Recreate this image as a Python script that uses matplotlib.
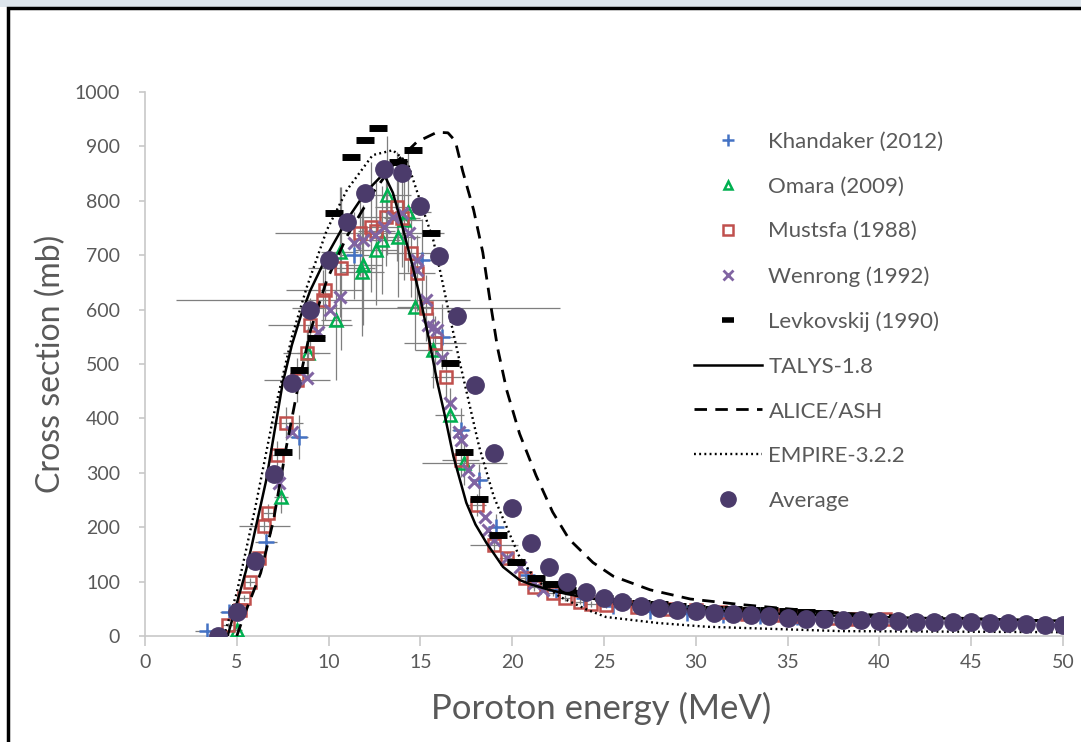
import matplotlib
matplotlib.use("Agg")
import matplotlib.pyplot as plt
from matplotlib.lines import Line2D
from matplotlib.patches import Rectangle

plt.rcParams['font.family'] = ['Lato', 'DejaVu Sans']

khandaker_e = [3.4, 4.6, 6.6, 8.4, 11.4, 15.1, 16.2, 17.2, 18.2, 19.1, 20.8, 22.4, 23.9, 25.5, 27.5, 29.5, 31.5, 33.5, 35.5]
khandaker_s = [9, 45, 173, 366, 700, 691, 550, 379, 287, 200, 112, 85, 70, 56, 46, 42, 39, 37, 35]
khandaker_xerr = [0.7, 0.5, 0.6, 0.5, 0.8, 0.6, 0.6, 0.5, 0.5, 0.4, 0.4, 0.3, 0.3, 0.3, 0.3, 0.3, 0.3, 0.3, 0.3]
khandaker_yerr = [5, 8, 20, 40, 80, 75, 60, 40, 30, 25, 12, 9, 8, 6, 5, 5, 4, 4, 4]

omara_e = [5.0, 7.4, 8.9, 10.4, 10.6, 11.8, 11.9, 12.6, 12.9, 13.2, 13.8, 14.1, 14.3, 14.7, 15.7, 16.6, 17.4]
omara_s = [11, 256, 520, 581, 706, 669, 682, 709, 728, 810, 733, 765, 779, 605, 526, 406, 318]
omara_xerr = [0.3, 0.4, 0.6, 0.8, 1.0, 1.2, 1.0, 1.2, 1.0, 1.3, 1.2, 1.0, 1.3, 1.0, 1.0, 0.8, 2.3]
omara_yerr = [5, 30, 50, 110, 120, 118, 110, 100, 100, 110, 110, 110, 110, 80, 70, 50, 40]

mustsfa_e = [4.5, 5.2, 5.4, 5.7, 6.2, 6.5, 6.7, 7.2, 7.7, 8.3, 8.8, 9.0, 9.7, 9.8, 10.7, 11.7, 12.3, 12.6, 13.1, 13.7,
             14.0, 14.5, 14.8, 15.3, 15.8, 16.4, 17.2, 18.1, 19.0, 19.7, 20.7, 21.2, 22.2, 22.9, 23.7, 24.3, 25.1,
             26.8, 28.5, 30.0, 31.3, 32.8, 34.2, 35.8, 37.3, 38.8, 40.3]
mustsfa_s = [20, 48, 70, 99, 143, 202, 226, 333, 391, 471, 520, 572, 618, 636, 676, 741, 752, 745, 770, 789,
             768, 704, 667, 603, 539, 476, 323, 241, 167, 143, 107, 90, 79, 70, 63, 59, 57,
             53, 50, 47, 44, 41, 39, 36, 34, 32, 31]
mustsfa_xerr = [0.3, 0.3, 0.3, 0.3, 0.3, 1.4, 0.3, 0.4, 0.9, 1.8, 1.3, 2.3, 8.0, 2.1, 1.8, 4.6, 1.5, 1.0, 1.5, 1.2,
                1.0, 1.3, 1.0, 7.3, 1.7, 0.8, 1.0, 0.5, 1.3, 0.4, 0.3, 0.3, 0.3, 0.3, 0.3, 0.3, 0.3,
                0.3, 0.3, 0.3, 0.3, 0.3, 0.3, 0.3, 0.3, 0.3, 0.3]
mustsfa_yerr = [3, 5, 6, 8, 12, 15, 16, 25, 30, 40, 45, 50, 55, 55, 150, 80, 120, 90, 90, 100,
                90, 80, 70, 60, 50, 45, 30, 20, 15, 12, 8, 7, 6, 6, 5, 5, 5,
                4, 4, 4, 4, 3, 3, 3, 3, 3, 3]

wenrong_e = [7.3, 8.0, 8.8, 9.4, 10.1, 10.6, 11.4, 11.9, 12.5, 13.0, 13.5, 14.0, 14.4, 14.8, 14.8, 15.3, 15.4,
             15.7, 15.9, 16.2, 16.6, 17.1, 17.2, 17.6, 17.9, 18.5, 18.7, 19.0, 19.7, 20.4, 21.2, 21.7]
wenrong_s = [281, 375, 474, 559, 599, 623, 722, 728, 737, 752, 770, 778, 741, 691, 673, 618, 572,
             568, 563, 511, 428, 375, 360, 305, 283, 219, 195, 176, 143, 127, 97, 85]

levkovskij_e = [7.5, 8.4, 9.3, 10.3, 11.2, 12.0, 12.7, 13.8, 14.6, 15.6, 16.6, 17.4, 18.2, 19.2, 20.2, 21.3,
                22.1, 23.0, 23.9, 25.0, 26.0, 27.0, 28.0, 29.0, 30.0, 31.0, 32.0, 33.0, 34.0, 35.0, 36.0, 37.0]
levkovskij_s = [338, 489, 548, 778, 880, 912, 934, 871, 893, 741, 502, 338, 252, 186, 136, 107,
                96, 85, 79, 70, 65, 61, 58, 55, 52, 50, 49, 48, 47, 46, 44, 43]

# ---- model calculations ----
talys_e = [4.5, 5.0, 5.5, 5.8, 6.6, 7.5, 8.0, 8.5, 9.0, 10.0, 11.0, 12.0, 13.0, 13.5, 14.0, 14.5, 15.0, 15.5,
           15.9, 16.3, 16.8, 17.5, 18.0, 18.6, 19.5, 20.4, 21.0, 22.0, 23.0, 25.0, 27.0, 30.0, 35.0, 40.0, 45.0, 50.0]
talys_s = [0, 60, 120, 164, 286, 465, 535, 590, 635, 705, 765, 815, 850, 815, 755, 690, 620, 540,
           470, 410, 330, 245, 205, 171, 127, 103, 95, 85, 77, 65, 56, 48, 40, 35, 31, 28]

alice_e = [5.0, 5.3, 6.3, 7.0, 7.7, 8.3, 9.0, 9.9, 11.0, 12.4, 13.5, 14.8, 15.9, 16.5, 16.9, 17.3, 17.9, 18.4, 18.8,
           19.2, 19.7, 20.4, 21.3, 22.2, 23.1, 24.4, 25.5, 27.5, 29.7, 32.4, 34.0, 37.0, 40.0, 45.0, 50.0]
alice_s = [0, 29, 116, 213, 348, 452, 560, 654, 735, 814, 865, 908, 926, 925, 910, 855, 783, 705, 615,
           530, 452, 372, 295, 228, 178, 135, 110, 85, 68, 58, 53, 44, 38, 32, 27]

empire_e = [4.3, 5.0, 6.0, 7.0, 8.0, 8.8, 9.9, 11.0, 12.4, 13.5, 14.3, 15.2, 15.7, 16.1, 16.6, 17.2, 18.2,
            19.0, 19.7, 20.4, 21.3, 22.6, 24.1, 25.1, 27.9, 30.6, 37.9, 50.0]
empire_s = [0, 80, 235, 405, 550, 640, 746, 820, 884, 893, 870, 778, 728, 667, 587, 495, 348,
            256, 200, 145, 103, 72, 48, 35, 24, 17, 9, 7]

average_e = [4, 5, 6, 7, 8, 9, 10, 11, 12, 13, 14, 15, 16, 17, 18, 19, 20, 21, 22, 23, 24, 25, 26, 27,
             28, 29, 30, 31, 32, 33, 34, 35, 36, 37, 38, 39, 40, 41, 42, 43, 44, 45, 46, 47, 48, 49, 50]
average_s = [0, 44, 138, 298, 465, 599, 691, 761, 814, 858, 851, 790, 698, 588, 461, 336, 235, 171, 127, 99, 81, 70,
             63, 56, 51, 48, 46, 43, 41, 39, 37, 34, 32, 31, 30, 29, 28, 27, 26, 26, 25, 25, 24, 23, 22, 21, 20]

GREY_TXT = '#595959'
ERR = '#7f7f7f'

fig = plt.figure(figsize=(10.81, 7.42), dpi=100)
ax = fig.add_axes([145 / 1081, 1 - 636 / 742, 918 / 1081, 544 / 742])

# error bars first so the markers sit on top
for e, s, xe, ye in [(khandaker_e, khandaker_s, khandaker_xerr, khandaker_yerr),
                     (omara_e, omara_s, omara_xerr, omara_yerr),
                     (mustsfa_e, mustsfa_s, mustsfa_xerr, mustsfa_yerr)]:
    ax.errorbar(e, s, xerr=xe, yerr=ye, fmt='none', ecolor=ERR, elinewidth=0.9, capsize=0, zorder=1)

ax.plot(khandaker_e, khandaker_s, ls='none', marker='+', ms=11, mew=1.8, color='#4472C4', zorder=3)
ax.plot(omara_e, omara_s, ls='none', marker='^', ms=8.5, mew=1.8, mfc='none', mec='#00B050', zorder=3)
ax.plot(mustsfa_e, mustsfa_s, ls='none', marker='s', ms=9, mew=1.8, mfc='none', mec='#C0504D', zorder=3)
ax.plot(wenrong_e, wenrong_s, ls='none', marker='x', ms=9, mew=2.2, color='#8064A2', zorder=3)
ax.plot(levkovskij_e, levkovskij_s, ls='none', marker='_', ms=13, mew=5, color='black', zorder=3)

ax.plot(talys_e, talys_s, color='black', lw=1.8, zorder=4)
ax.plot(alice_e, alice_s, color='black', lw=2, dashes=(4.5, 3), zorder=4)
ax.plot(empire_e, empire_s, color='black', lw=1.7, dashes=(0.8, 1.4), zorder=4)

ax.plot(average_e, average_s, ls='none', marker='o', ms=12.5, color='#4B3B6B', zorder=5)

ax.set_xlim(0, 50)
ax.set_ylim(0, 1000)
ax.set_xticks(range(0, 51, 5))
ax.set_yticks(range(0, 1001, 100))
for side in ['top', 'right']:
    ax.spines[side].set_visible(False)
for side in ['left', 'bottom']:
    ax.spines[side].set_color('#c8c8c8')
    ax.spines[side].set_linewidth(1.2)
ax.tick_params(axis='x', direction='out', length=7, width=1.2, color='#c8c8c8', pad=6,
               labelsize=14, labelcolor=GREY_TXT)
ax.tick_params(axis='y', direction='out', length=4, width=1.2, color='#c8c8c8', pad=14,
               labelsize=14, labelcolor=GREY_TXT)

ax.set_xlabel('Poroton energy (MeV)', fontsize=25, color=GREY_TXT)
ax.xaxis.set_label_coords(0.497, -0.102)
ax.set_ylabel('Cross section (mb)', fontsize=23, color=GREY_TXT)
ax.yaxis.set_label_coords(-0.086, 0.5)

handles = [
    Line2D([], [], ls='none', marker='+', ms=9, mew=1.8, color='#4472C4'),
    Line2D([], [], ls='none', marker='^', ms=6, mew=1.8, mfc='none', mec='#00B050'),
    Line2D([], [], ls='none', marker='s', ms=7, mew=1.8, mfc='none', mec='#C0504D'),
    Line2D([], [], ls='none', marker='x', ms=7, mew=2, color='#8064A2'),
    Line2D([], [], ls='none', marker='_', ms=9, mew=4, color='black'),
    Line2D([], [], color='black', lw=1.8),
    Line2D([], [], color='black', lw=2, dashes=(4.5, 3)),
    Line2D([], [], color='black', lw=1.7, dashes=(0.8, 1.4)),
    Line2D([], [], ls='none', marker='o', ms=11, color='#4B3B6B'),
]
labels = ['Khandaker (2012)', 'Omara (2009)', 'Mustsfa (1988)', 'Wenrong (1992)', 'Levkovskij (1990)',
          'TALYS-1.8', 'ALICE/ASH', 'EMPIRE-3.2.2', 'Average']
leg = fig.legend(handles, labels, loc='upper left', bbox_to_anchor=(694 / 1081, 1 - 132 / 742),
                 frameon=False, fontsize=16, handlelength=3.05, handletextpad=0.3,
                 labelspacing=1.11, borderpad=0, borderaxespad=0)
for t in leg.get_texts():
    t.set_color(GREY_TXT)

# outer frame of the original screenshot
fig.patches.append(Rectangle((0, 1 - 7 / 742), 1, 7 / 742, transform=fig.transFigure,
                             facecolor='#dde5ec', edgecolor='none', zorder=0))
fig.patches.append(Rectangle((8 / 1081, -0.1), 1.2, 1.1 - 8 / 742, transform=fig.transFigure,
                             fill=False, edgecolor='black', lw=2.5, zorder=10))

fig.savefig('out.png', dpi=100)
